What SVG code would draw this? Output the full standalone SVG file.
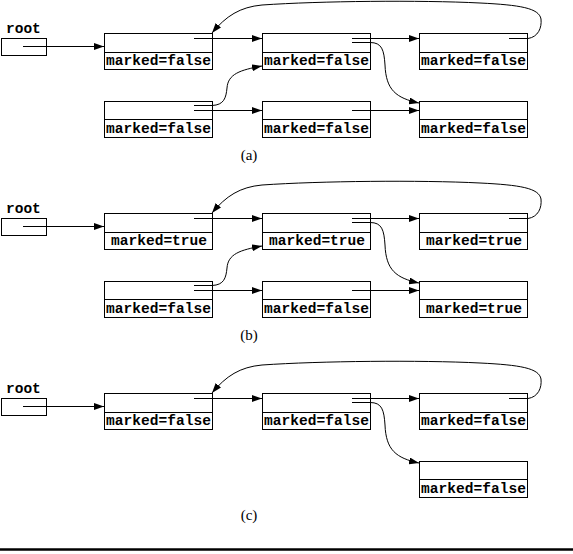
<svg xmlns="http://www.w3.org/2000/svg" width="573" height="554" viewBox="0 0 573 554">
<style>
.box{fill:#fff;stroke:#000;stroke-width:1}
.ln{fill:none;stroke:#000;stroke-width:1}
.ar{fill:none;stroke:#000;stroke-width:1;marker-end:url(#ah)}
.t{font-family:"Liberation Mono","DejaVu Sans Mono",monospace;font-weight:bold;font-size:14.5px;fill:#000}
.cap{font-family:"Liberation Serif","DejaVu Serif",serif;font-size:15px;fill:#000}
</style>
<defs>
<marker id="ah" markerUnits="userSpaceOnUse" markerWidth="11" markerHeight="7" refX="10" refY="3.5" orient="auto">
<path d="M0,0 L10,3.5 L0,7 z" fill="#000"/>
</marker>
</defs>
<rect width="573" height="554" fill="#fff"/>

<!-- Panel (a) -->
<g id="panel-a">
<g id="a-root"><text class="t" x="6" y="33" font-size="13">root</text><rect class="box" x="1.5" y="38.5" width="45" height="17"/></g>
<g id="a-n1"><rect class="box" x="104.5" y="33.5" width="108" height="36"/><line class="ln" x1="104.5" y1="52.5" x2="212.5" y2="52.5"/><text class="t" x="106" y="65" textLength="105">marked=false</text></g>
<g id="a-n2"><rect class="box" x="262.5" y="33.5" width="108" height="36"/><line class="ln" x1="262.5" y1="52.5" x2="370.5" y2="52.5"/><text class="t" x="264" y="65" textLength="105">marked=false</text></g>
<g id="a-n3"><rect class="box" x="419.5" y="33.5" width="108" height="36"/><line class="ln" x1="419.5" y1="52.5" x2="527.5" y2="52.5"/><text class="t" x="421" y="65" textLength="105">marked=false</text></g>
<g id="a-n4"><rect class="box" x="104.5" y="101.5" width="108" height="36"/><line class="ln" x1="104.5" y1="119.5" x2="212.5" y2="119.5"/><text class="t" x="106" y="133" textLength="105">marked=false</text></g>
<g id="a-n5"><rect class="box" x="262.5" y="101.5" width="108" height="36"/><line class="ln" x1="262.5" y1="119.5" x2="370.5" y2="119.5"/><text class="t" x="264" y="133" textLength="105">marked=false</text></g>
<g id="a-n6"><rect class="box" x="419.5" y="101.5" width="108" height="36"/><line class="ln" x1="419.5" y1="119.5" x2="527.5" y2="119.5"/><text class="t" x="421" y="133" textLength="105">marked=false</text></g>
<g id="a-connectors">
<path class="ar" d="M23,46.5 H104"/>
<path class="ar" d="M194,38.5 H262"/>
<path class="ar" d="M352,38.5 H419"/>
<path class="ar" d="M352,42.5 H370 C382,42.5 384,50 385,65 C386,90 396,98 419,103"/>
<path class="ar" d="M509,38.5 H528 C538,37 542,28 541,19 C539,8 520,5 480,3 C420,0 320,1 262,5 C240,7 226,16 212,33"/>
<path class="ar" d="M194,105.5 H212 C224,105 226,98 227,88 C228,74 240,70 262,66"/>
<path class="ar" d="M194,110.5 H262"/>
<path class="ar" d="M352,110.5 H419"/>
</g>
<text class="cap" x="249" y="160" text-anchor="middle">(a)</text>
</g>

<!-- Panel (b) -->
<g id="panel-b" transform="translate(0,180)">
<g id="b-root"><text class="t" x="6" y="33" font-size="13">root</text><rect class="box" x="1.5" y="38.5" width="45" height="17"/></g>
<g id="b-n1"><rect class="box" x="104.5" y="33.5" width="108" height="36"/><line class="ln" x1="104.5" y1="52.5" x2="212.5" y2="52.5"/><text class="t" x="111" y="65" textLength="96">marked=true</text></g>
<g id="b-n2"><rect class="box" x="262.5" y="33.5" width="108" height="36"/><line class="ln" x1="262.5" y1="52.5" x2="370.5" y2="52.5"/><text class="t" x="269" y="65" textLength="96">marked=true</text></g>
<g id="b-n3"><rect class="box" x="419.5" y="33.5" width="108" height="36"/><line class="ln" x1="419.5" y1="52.5" x2="527.5" y2="52.5"/><text class="t" x="426" y="65" textLength="96">marked=true</text></g>
<g id="b-n4"><rect class="box" x="104.5" y="101.5" width="108" height="36"/><line class="ln" x1="104.5" y1="119.5" x2="212.5" y2="119.5"/><text class="t" x="106" y="133" textLength="105">marked=false</text></g>
<g id="b-n5"><rect class="box" x="262.5" y="101.5" width="108" height="36"/><line class="ln" x1="262.5" y1="119.5" x2="370.5" y2="119.5"/><text class="t" x="264" y="133" textLength="105">marked=false</text></g>
<g id="b-n6"><rect class="box" x="419.5" y="101.5" width="108" height="36"/><line class="ln" x1="419.5" y1="119.5" x2="527.5" y2="119.5"/><text class="t" x="426" y="133" textLength="96">marked=true</text></g>
<g id="b-connectors">
<path class="ar" d="M23,46.5 H104"/>
<path class="ar" d="M194,38.5 H262"/>
<path class="ar" d="M352,38.5 H419"/>
<path class="ar" d="M352,42.5 H370 C382,42.5 384,50 385,65 C386,90 396,98 419,103"/>
<path class="ar" d="M509,38.5 H528 C538,37 542,28 541,19 C539,8 520,5 480,3 C420,0 320,1 262,5 C240,7 226,16 212,33"/>
<path class="ar" d="M194,105.5 H212 C224,105 226,98 227,88 C228,74 240,70 262,66"/>
<path class="ar" d="M194,110.5 H262"/>
<path class="ar" d="M352,110.5 H419"/>
</g>
<text class="cap" x="249" y="160" text-anchor="middle">(b)</text>
</g>

<!-- Panel (c) -->
<g id="panel-c" transform="translate(0,360)">
<g id="c-root"><text class="t" x="6" y="33" font-size="13">root</text><rect class="box" x="1.5" y="38.5" width="45" height="17"/></g>
<g id="c-n1"><rect class="box" x="104.5" y="33.5" width="108" height="36"/><line class="ln" x1="104.5" y1="52.5" x2="212.5" y2="52.5"/><text class="t" x="106" y="65" textLength="105">marked=false</text></g>
<g id="c-n2"><rect class="box" x="262.5" y="33.5" width="108" height="36"/><line class="ln" x1="262.5" y1="52.5" x2="370.5" y2="52.5"/><text class="t" x="264" y="65" textLength="105">marked=false</text></g>
<g id="c-n3"><rect class="box" x="419.5" y="33.5" width="108" height="36"/><line class="ln" x1="419.5" y1="52.5" x2="527.5" y2="52.5"/><text class="t" x="421" y="65" textLength="105">marked=false</text></g>
<g id="c-n6"><rect class="box" x="419.5" y="101.5" width="108" height="36"/><line class="ln" x1="419.5" y1="119.5" x2="527.5" y2="119.5"/><text class="t" x="421" y="133" textLength="105">marked=false</text></g>
<g id="c-connectors">
<path class="ar" d="M23,46.5 H104"/>
<path class="ar" d="M194,38.5 H262"/>
<path class="ar" d="M352,38.5 H419"/>
<path class="ar" d="M352,42.5 H370 C382,42.5 384,50 385,65 C386,90 396,98 419,103"/>
<path class="ar" d="M509,38.5 H528 C538,37 542,28 541,19 C539,8 520,5 480,3 C420,0 320,1 262,5 C240,7 226,16 212,33"/>
</g>
<text class="cap" x="249" y="160" text-anchor="middle">(c)</text>
</g>

<line x1="0" y1="549.5" x2="573" y2="549.5" stroke="#000" stroke-width="2.5"/>
</svg>
